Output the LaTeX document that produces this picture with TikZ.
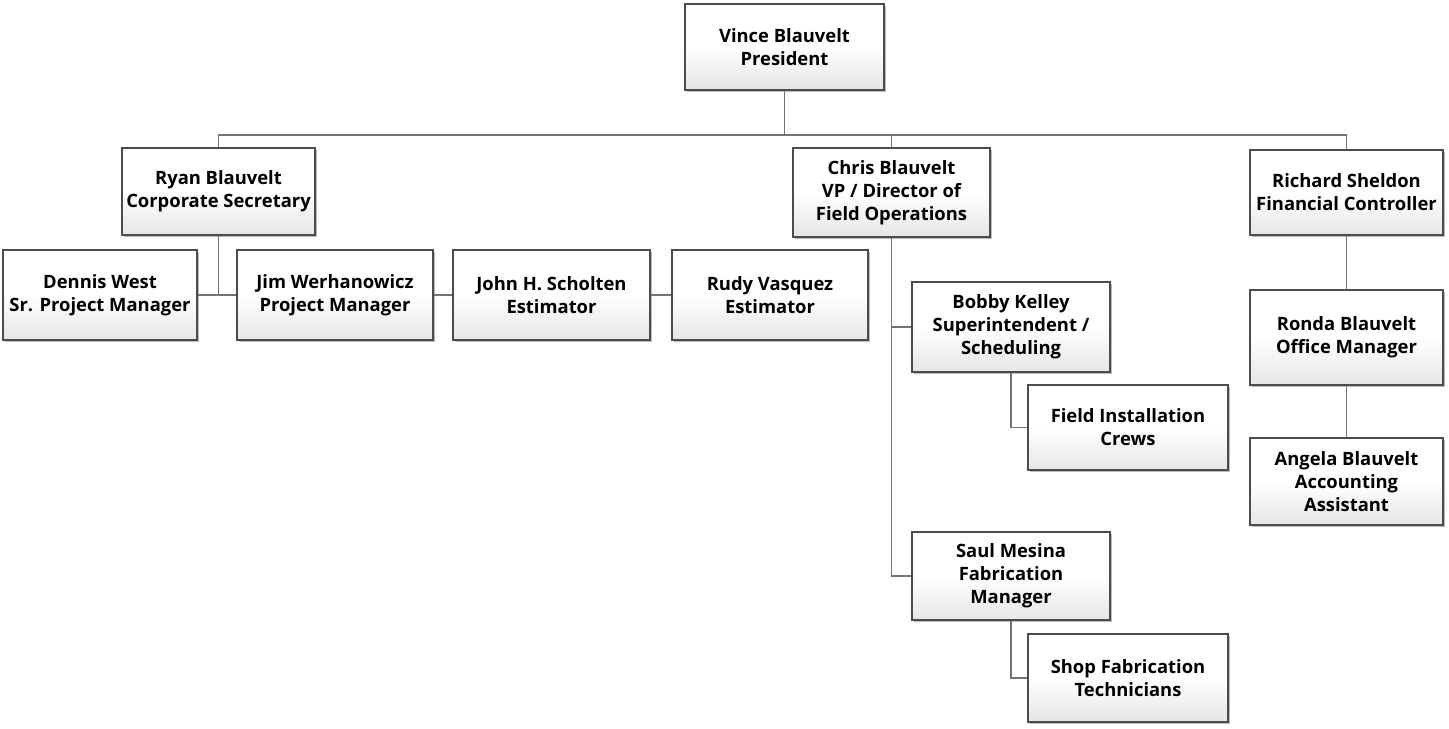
\documentclass[tikz,border=0pt]{standalone}
\usepackage{fontspec}
\setmainfont{Open Sans}
\usetikzlibrary{shadows}
\tikzset{
  box/.style={draw=black!70, line width=0.7pt, top color=white, bottom color=black!10,
    middle color=white, shading angle=0,
    drop shadow={shadow xshift=0.9pt, shadow yshift=-0.9pt, opacity=0.45, fill=black!60},
    align=center, inner sep=2pt, text=black,
    font=\fontsize{9.2}{11.5}\selectfont\bfseries},
  link/.style={draw=black!55, line width=0.6pt}
}
\newcommand{\orgbox}[6]{\node[box, minimum width={(#4-#2)*0.5pt}, minimum height={(#5-#3)*0.5pt}] (#1) at ({(#2+#4)/2},{(#3+#5)/2}) {#6};}
\begin{document}
\begin{tikzpicture}[x=0.5pt, y=-0.5pt]
\useasboundingbox (0,0) rectangle (1449,728);
\orgbox{vince}{685}{4}{884}{90}{Vince Blauvelt\\President}
\orgbox{ryan}{122}{148}{315}{235}{Ryan Blauvelt\\Corporate Secretary}
\orgbox{chris}{793}{148}{990}{237}{Chris Blauvelt\\VP / Director of\\Field Operations}
\orgbox{richard}{1250}{150}{1443}{235}{Richard Sheldon\\Financial Controller}
\orgbox{dennis}{3}{250}{197}{340}{Dennis West\\Sr. Project Manager}
\orgbox{jim}{237}{250}{433}{340}{Jim Werhanowicz\\Project Manager}
\orgbox{john}{453}{250}{650}{340}{John H. Scholten\\Estimator}
\orgbox{rudy}{672}{250}{868}{340}{Rudy Vasquez\\Estimator}
\orgbox{bobby}{912}{282}{1110}{372}{Bobby Kelley\\Superintendent /\\Scheduling}
\orgbox{field}{1028}{385}{1228}{470}{Field Installation\\Crews}
\orgbox{saul}{912}{532}{1110}{620}{Saul Mesina\\Fabrication\\Manager}
\orgbox{shop}{1028}{634}{1228}{722}{Shop Fabrication\\Technicians}
\orgbox{ronda}{1250}{290}{1443}{385}{Ronda Blauvelt\\Office Manager}
\orgbox{angela}{1250}{438}{1443}{525}{Angela Blauvelt\\Accounting\\Assistant}
\coordinate (bus) at (784.5,135);
\draw[link] (vince.south) -- (bus);
\draw[link] (ryan.north) |- (bus) -| (richard.north);
\draw[link] (chris.north) -- (chris.north |- bus);
\draw[link] (ryan.south) -- (ryan.south |- dennis.east);
\draw[link] (dennis.east) -- (jim.west);
\draw[link] (jim.east) -- (john.west);
\draw[link] (john.east) -- (rudy.west);
\draw[link] (chris.south) |- (bobby.west);
\draw[link] (chris.south) |- (saul.west);
\draw[link] (bobby.south) |- (field.west);
\draw[link] (saul.south) |- (shop.west);
\draw[link] (richard.south) -- (ronda.north);
\draw[link] (ronda.south) -- (angela.north);
\end{tikzpicture}
\end{document}
